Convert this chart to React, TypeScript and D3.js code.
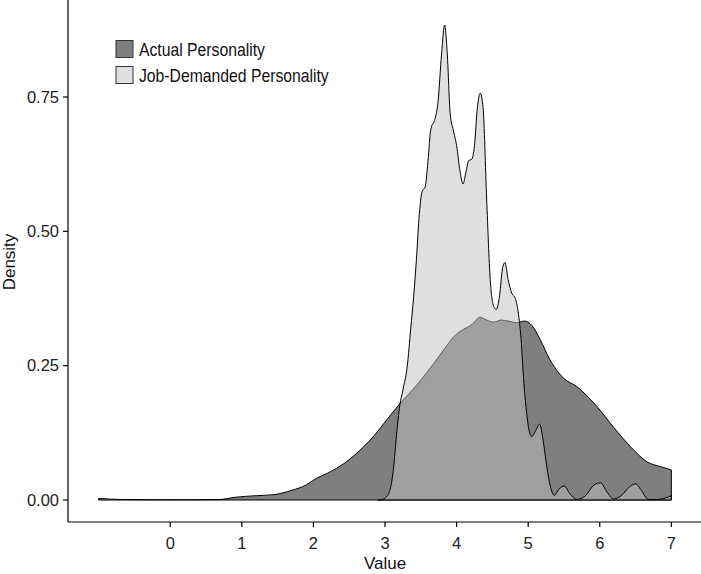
import React from 'react';
import * as d3 from 'd3';

// density curves
const actualX = [-1.0, -0.7, -0.3, 0, 0.4, 0.7, 0.9, 1.2, 1.45, 1.7, 1.9, 2.05, 2.2, 2.45, 2.7, 2.85, 3.0, 3.2, 3.45, 3.68, 3.85, 3.96, 4.1, 4.2, 4.33, 4.42, 4.52, 4.62, 4.72, 4.84, 4.95, 5.05, 5.17, 5.3, 5.5, 5.68, 5.82, 5.96, 6.19, 6.43, 6.66, 6.85, 7.0];
const actualY = [0.003, 0.001, 0.0005, 0.0005, 0.0005, 0.001, 0.005, 0.008, 0.010, 0.018, 0.028, 0.041, 0.050, 0.070, 0.099, 0.120, 0.145, 0.178, 0.215, 0.254, 0.285, 0.304, 0.318, 0.325, 0.340, 0.335, 0.331, 0.335, 0.333, 0.330, 0.333, 0.325, 0.298, 0.262, 0.226, 0.211, 0.194, 0.174, 0.136, 0.099, 0.071, 0.062, 0.056];

const jobX = [2.9, 2.96, 3.02, 3.07, 3.12, 3.16, 3.2, 3.25, 3.31, 3.36, 3.4, 3.44, 3.48, 3.52, 3.56, 3.6, 3.64, 3.7, 3.74, 3.79, 3.833, 3.87, 3.91, 3.96, 4.0, 4.05, 4.09, 4.13, 4.17, 4.21, 4.25, 4.29, 4.33, 4.37, 4.42, 4.47, 4.52, 4.555, 4.6, 4.64, 4.676, 4.72, 4.77, 4.82, 4.86, 4.9, 4.94, 4.98, 5.02, 5.05, 5.1, 5.16, 5.21, 5.26, 5.31, 5.365, 5.43, 5.505, 5.58, 5.68, 5.8, 5.92, 6.01, 6.1, 6.19, 6.3, 6.42, 6.5, 6.58, 6.68, 6.8, 6.92, 7.0];
const jobY = [0, 0.001, 0.006, 0.019, 0.06, 0.12, 0.17, 0.205, 0.248, 0.32, 0.378, 0.45, 0.533, 0.575, 0.582, 0.63, 0.69, 0.71, 0.74, 0.83, 0.884, 0.83, 0.72, 0.685, 0.66, 0.61, 0.588, 0.61, 0.632, 0.634, 0.66, 0.73, 0.757, 0.73, 0.56, 0.41, 0.36, 0.355, 0.38, 0.43, 0.442, 0.41, 0.385, 0.375, 0.35, 0.30, 0.217, 0.16, 0.125, 0.118, 0.128, 0.141, 0.11, 0.062, 0.025, 0.009, 0.02, 0.026, 0.012, 0.001, 0.008, 0.028, 0.032, 0.015, 0.002, 0.008, 0.025, 0.030, 0.018, 0.001, 0.001, 0.004, 0.008];

const xTicks = [0, 1, 2, 3, 4, 5, 6, 7];
const yTicks = [0, 0.25, 0.5, 0.75];
const seriesNames = ['Actual Personality', 'Job-Demanded Personality'];

const W = 701;
const H = 574;
const FONT = '"Liberation Sans", Arial, sans-serif';

export default function App() {
  const left = 68;
  const bottom = 522;

  const x = d3.scaleLinear().domain([-1.4, 7.4]).range([70, 700]);
  const y = d3.scaleLinear().domain([0, 0.75]).range([500, 97]);

  const area = d3.area<[number, number]>()
    .x(d => x(d[0]))
    .y0(y(0))
    .y1(d => y(Math.max(0, d[1])))
    .curve(d3.curveMonotoneX);

  // closed outline like ggplot's density polygon
  const outline = (pts: [number, number][]) => {
    const top = d3.line<[number, number]>()
      .x(d => x(d[0]))
      .y(d => y(Math.max(0, d[1])))
      .curve(d3.curveMonotoneX)(pts) as string;
    const first = pts[0];
    const last = pts[pts.length - 1];
    return `M${x(first[0])},${y(0)}L${top.slice(1)}L${x(last[0])},${y(0)}Z`;
  };

  const actual: [number, number][] = actualX.map((v, i) => [v, actualY[i]]);
  const job: [number, number][] = jobX.map((v, i) => [v, jobY[i]]);

  return (
    <svg width={W} height={H} style={{ position: 'absolute', left: 0, top: 0, background: '#fff' }} fontFamily={FONT}>
      {/* Actual */}
      <path d={area(actual) as string} fill="#000" fillOpacity={0.5} />
      <path d={outline(actual)} fill="none" stroke="#000" strokeWidth={1} />
      {/* Job-demanded */}
      <path d={area(job) as string} fill="#c0c0c0" fillOpacity={0.5} />
      <path d={outline(job)} fill="none" stroke="#000" strokeWidth={1} />

      {/* axes */}
      <line x1={left} x2={left} y1={0} y2={bottom} stroke="#000" strokeWidth={1.2} />
      <line x1={left} x2={W} y1={bottom} y2={bottom} stroke="#000" strokeWidth={1.2} />
      {yTicks.map(t => (
        <g key={t}>
          <line x1={left - 5} x2={left} y1={y(t)} y2={y(t)} stroke="#000" strokeWidth={1.2} />
          <text x={left - 9} y={y(t)} dy="0.35em" textAnchor="end" fontSize={16.5} fill="#222">
            {d3.format('.2f')(t)}
          </text>
        </g>
      ))}
      {xTicks.map(t => (
        <g key={t}>
          <line x1={x(t)} x2={x(t)} y1={bottom} y2={bottom + 5} stroke="#000" strokeWidth={1.2} />
          <text x={x(t)} y={bottom + 27} textAnchor="middle" fontSize={16.5} fill="#222">
            {t}
          </text>
        </g>
      ))}
      <text x={385} y={569} textAnchor="middle" fontSize={17} fill="#111">Value</text>
      <text transform={`translate(15,262) rotate(-90)`} textAnchor="middle" fontSize={17} fill="#111">Density</text>

      {/* legend */}
      {seriesNames.map((name, i) => (
        <g key={name} transform={`translate(116,${40.5 + i * 26})`}>
          <rect x={0} y={0} width={17} height={17} fill={i === 0 ? '#7f7f7f' : '#e0e0e0'} stroke="#333" strokeWidth={1} />
          <text transform="translate(23,15) scale(0.9,1)" fontSize={17.5} fill="#111">{name}</text>
        </g>
      ))}
    </svg>
  );
}
